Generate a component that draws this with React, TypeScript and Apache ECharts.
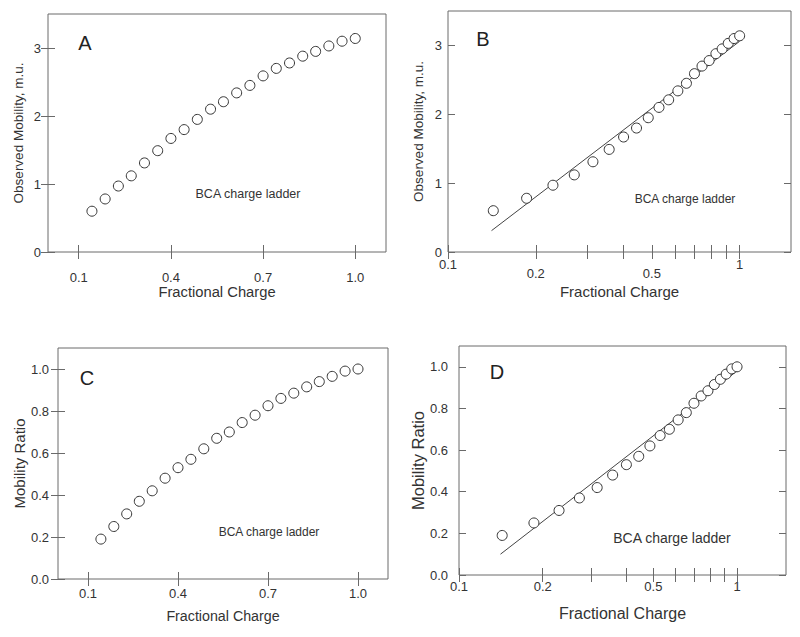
import React, { useEffect, useRef } from "react";
import * as echarts from "echarts";

// ---- data ----
const charge = [0.143, 0.186, 0.229, 0.271, 0.314, 0.357, 0.4, 0.443, 0.486, 0.529, 0.571, 0.614, 0.657, 0.7, 0.743, 0.786, 0.829, 0.871, 0.914, 0.957, 1.0];
const mobility = [0.6, 0.78, 0.97, 1.12, 1.31, 1.49, 1.67, 1.8, 1.95, 2.1, 2.21, 2.34, 2.45, 2.59, 2.7, 2.78, 2.88, 2.95, 3.03, 3.1, 3.14];
const ratio = [0.19, 0.25, 0.31, 0.37, 0.42, 0.48, 0.53, 0.57, 0.62, 0.67, 0.7, 0.745, 0.78, 0.825, 0.86, 0.885, 0.915, 0.94, 0.965, 0.99, 1.0];
const fitCharge = [0.141, 1.0];
const fitMobility = [0.31, 3.06];
const fitRatio = [0.1, 0.98];

const linearChargeTicks = [0.1, 0.4, 0.7, 1.0];
const logChargeLabels = [0.1, 0.2, 0.5, 1];
const logChargeTicks = [0.1, 0.2, 0.3, 0.4, 0.5, 0.6, 0.7, 0.8, 0.9, 1];
const mobilityTicks = [0, 1, 2, 3];
const ratioTicks = [0, 0.2, 0.4, 0.6, 0.8, 1.0];

const panelLetters = ["A", "B", "C", "D"];
const noteText = "BCA charge ladder";
const xName = "Fractional Charge";
const yNames = ["Observed Mobility, m.u.", "Observed Mobility, m.u.", "Mobility Ratio", "Mobility Ratio"];

const FONT = "'Liberation Sans', Arial, sans-serif";
const TEXT = "#333";
const LINE = "#6a6a6a";

type Panel = {
  grid: { left: number; top: number; width: number; height: number };
  log: boolean;
  yMax: number;
  yTicks: number[];
  y: number[];
  fit?: number[];
  yFmt: (v: number) => string;
  xLabelMargin: number;
  yLabelMargin: number;
  xNameGap: number;
  yNameGap: number;
  xNameSize: number;
  yNameSize: number;
  letterPos: [number, number];
  notePos: [number, number];
  noteSize: number;
  stagger: boolean;
};

const panels: Panel[] = [
  {
    grid: { left: 48, top: 14, width: 338, height: 238 }, log: false, yMax: 3.5, yTicks: mobilityTicks, y: mobility,
    yFmt: (v) => String(v), xLabelMargin: 19, yLabelMargin: 7, xNameGap: 31, yNameGap: 23, xNameSize: 14.75, yNameSize: 13.5,
    letterPos: [85, 43], notePos: [248, 194], noteSize: 12.5, stagger: false,
  },
  {
    grid: { left: 448, top: 11, width: 343, height: 241 }, log: true, yMax: 3.5, yTicks: mobilityTicks, y: mobility, fit: fitMobility,
    yFmt: (v) => String(v), xLabelMargin: 6, yLabelMargin: 6, xNameGap: 32, yNameGap: 23, xNameSize: 15, yNameSize: 13.5,
    letterPos: [483, 39], notePos: [685, 199], noteSize: 12, stagger: true,
  },
  {
    grid: { left: 58, top: 348, width: 330, height: 231 }, log: false, yMax: 1.1, yTicks: ratioTicks, y: ratio,
    yFmt: (v) => v.toFixed(1), xLabelMargin: 8, yLabelMargin: 9, xNameGap: 30, yNameGap: 31, xNameSize: 14.25, yNameSize: 15,
    letterPos: [87, 378], notePos: [269, 532], noteSize: 12, stagger: false,
  },
  {
    grid: { left: 459, top: 346, width: 327, height: 229 }, log: true, yMax: 1.1, yTicks: ratioTicks, y: ratio, fit: fitRatio,
    yFmt: (v) => v.toFixed(1), xLabelMargin: 5, yLabelMargin: 11, xNameGap: 30, yNameGap: 31, xNameSize: 16, yNameSize: 16.5,
    letterPos: [497, 372], notePos: [672, 538], noteSize: 14, stagger: false,
  },
];

function fmtCharge(v: number, log: boolean) {
  if (log) return v === 1 ? "1" : String(v);
  return v.toFixed(1);
}

export default function App() {
  const ref = useRef<HTMLDivElement>(null);
  useEffect(() => {
    document.body.style.margin = "0";
    if (!ref.current) return;
    const chart = echarts.init(ref.current, undefined, { renderer: "svg" });

    const grids: any[] = [];
    const xAxes: any[] = [];
    const yAxes: any[] = [];
    const series: any[] = [];
    const graphics: any[] = [];

    panels.forEach((p, i) => {
      grids.push({ ...p.grid, show: true, borderColor: LINE, borderWidth: 1, backgroundColor: "#fff", containLabel: false });
      const xBase: any = p.log
        ? { type: "log", logBase: 10, min: 0.1, max: 1.5 }
        : { type: "value", min: 0, max: 1.1 };
      const xTickVals = p.log ? logChargeTicks : linearChargeTicks;
      const xLabelVals = p.log ? logChargeLabels : linearChargeTicks;
      const labelCommon = { color: TEXT, fontSize: 13, fontFamily: FONT };
      xAxes.push({
        ...xBase,
        gridIndex: i,
        position: "bottom",
        axisLine: { show: false },
        splitLine: { show: false },
        minorTick: { show: false },
        axisTick: { show: true, inside: true, length: 7, customValues: xTickVals, lineStyle: { color: LINE, width: 1 } },
        axisLabel: {
          ...labelCommon,
          margin: p.xLabelMargin,
          customValues: xLabelVals,
          formatter: p.stagger
            ? (v: number) => (v === 0.1 || v === 1 ? `{hi|${fmtCharge(v, true)}}` : `{lo|${fmtCharge(v, true)}}`)
            : (v: number) => fmtCharge(v, p.log),
          rich: p.stagger
            ? {
                hi: { ...labelCommon },
                lo: { ...labelCommon, padding: [9, 0, 0, 0] },
              }
            : undefined,
        },
        name: xName,
        nameLocation: "middle",
        nameGap: p.xNameGap,
        nameTextStyle: { color: TEXT, fontSize: p.xNameSize, fontFamily: FONT },
      });
      xAxes.push({
        ...xBase,
        gridIndex: i,
        position: "top",
        axisLine: { show: false },
        splitLine: { show: false },
        axisTick: { show: true, inside: true, length: 7, customValues: xTickVals, lineStyle: { color: LINE, width: 1 } },
        axisLabel: { show: false },
      });
      const yBase = { type: "value", min: 0, max: p.yMax };
      yAxes.push({
        ...yBase,
        gridIndex: i,
        position: "left",
        axisLine: { show: false },
        splitLine: { show: false },
        axisTick: { show: true, inside: true, length: 7, customValues: p.yTicks, lineStyle: { color: LINE, width: 1 } },
        axisLabel: { ...labelCommon, margin: p.yLabelMargin, customValues: p.yTicks, formatter: p.yFmt },
        name: yNames[i],
        nameLocation: "middle",
        nameGap: p.yNameGap,
        nameTextStyle: { color: TEXT, fontSize: p.yNameSize, fontFamily: FONT },
      });
      yAxes.push({
        ...yBase,
        gridIndex: i,
        position: "right",
        axisLine: { show: false },
        splitLine: { show: false },
        axisTick: { show: true, inside: true, length: 7, customValues: p.yTicks, lineStyle: { color: LINE, width: 1 } },
        axisLabel: { show: false },
      });

      if (p.fit) {
        series.push({
          type: "line",
          xAxisIndex: 2 * i,
          yAxisIndex: 2 * i,
          data: fitCharge.map((c, k) => [c, p.fit![k]]),
          symbol: "none",
          lineStyle: { color: "#444", width: 1 },
          silent: true,
          z: 1,
        });
      }
      series.push({
        type: "scatter",
        xAxisIndex: 2 * i,
        yAxisIndex: 2 * i,
        data: charge.map((c, k) => [c, p.y[k]]),
        symbol: "circle",
        symbolSize: 10,
        itemStyle: { color: "#fff", borderColor: "#333", borderWidth: 1, opacity: 1 },
        z: 2,
      });

      graphics.push({
        type: "text",
        x: p.letterPos[0],
        y: p.letterPos[1],
        style: { text: panelLetters[i], font: `20px ${FONT}`, fill: "#222", textAlign: "center", textVerticalAlign: "middle" },
        z: 10,
      });
      graphics.push({
        type: "text",
        x: p.notePos[0],
        y: p.notePos[1],
        style: { text: noteText, font: `${p.noteSize}px ${FONT}`, fill: TEXT, textAlign: "center", textVerticalAlign: "middle" },
        z: 10,
      });
    });

    chart.setOption({
      animation: false,
      backgroundColor: "#fff",
      grid: grids,
      xAxis: xAxes,
      yAxis: yAxes,
      series,
      graphic: graphics,
    });
    return () => chart.dispose();
  }, []);
  return <div ref={ref} style={{ width: 800, height: 637 }} />;
}
